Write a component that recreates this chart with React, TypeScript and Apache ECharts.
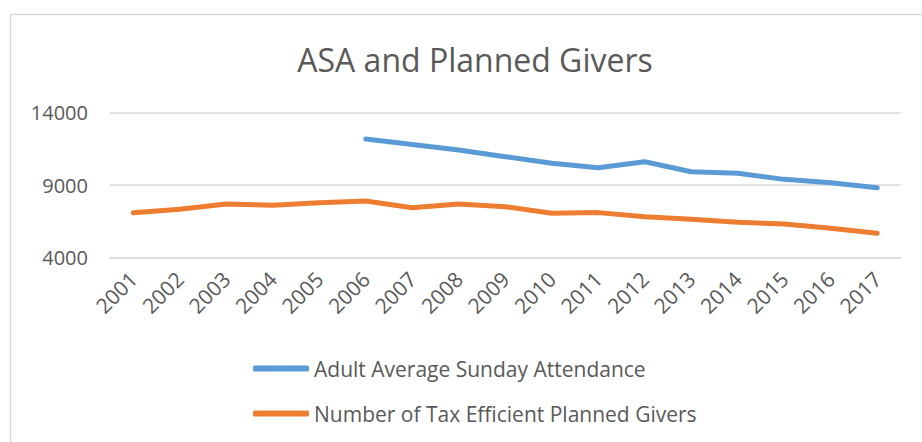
import React, { useEffect, useRef } from "react";
import * as echarts from "echarts";

const years = ["2001","2002","2003","2004","2005","2006","2007","2008","2009","2010","2011","2012","2013","2014","2015","2016","2017"];
const attendance = [null, null, null, null, null, 12180, 11800, 11420, 10960, 10500, 10200, 10610, 9920, 9810, 9390, 9160, 8810];
const plannedGivers = [7080, 7320, 7690, 7600, 7780, 7890, 7430, 7690, 7500, 7040, 7090, 6810, 6630, 6420, 6300, 6010, 5660];
const seriesNames = ["Adult Average Sunday Attendance", "Number of Tax Efficient Planned Givers"];
const yMin = 4000;
const yMax = 14000;
const yStep = 5000;

const FONT = "'Open Sans', sans-serif";
const TXT = "#595959";

export default function App() {
  const ref = useRef<HTMLDivElement>(null);
  useEffect(() => {
    if (!ref.current) return;
    const chart = echarts.init(ref.current, null, { renderer: "svg" });
    chart.setOption({
      animation: false,
      backgroundColor: "#ffffff",
      title: {
        text: "ASA and Planned Givers",
        left: 470,
        textAlign: "center",
        top: 38,
        textStyle: { fontFamily: FONT, fontSize: 32, fontWeight: "normal", color: TXT },
      },
      graphic: [
        {
          type: "rect",
          shape: { x: 10.5, y: 14.5, width: 1000, height: 1000 },
          style: { fill: "none", stroke: "#d9d9d9", lineWidth: 1.5 },
          silent: true,
        },
      ],
      legend: {
        orient: "vertical",
        left: 248,
        top: 351,
        itemWidth: 56,
        itemHeight: 6,
        itemGap: 20,
        icon: "roundRect",
        textStyle: { fontFamily: FONT, fontSize: 21, color: TXT, lineHeight: 25 },
        data: seriesNames,
      },
      grid: { left: 110, right: 21.5, top: 112.7, bottom: 184.7, containLabel: false },
      xAxis: {
        type: "category",
        data: years,
        boundaryGap: true,
        axisLine: { show: true, lineStyle: { color: "#d9d9d9", width: 1.5 } },
        axisTick: { show: false },
        axisLabel: {
          rotate: 45,
          interval: 0,
          margin: 18,
          fontFamily: FONT,
          fontSize: 21,
          color: TXT,
        },
      },
      yAxis: {
        type: "value",
        min: yMin,
        max: yMax,
        interval: yStep,
        axisLine: { show: false },
        axisTick: { show: false },
        splitLine: { lineStyle: { color: "#d9d9d9", width: 1.5 } },
        axisLabel: {
          margin: 22,
          fontFamily: FONT,
          fontSize: 20,
          color: TXT,
          formatter: (v: number) => String(v),
        },
      },
      series: [
        {
          name: seriesNames[0],
          type: "line",
          data: attendance,
          symbol: "none",
          connectNulls: false,
          itemStyle: { color: "#5b9bd5" },
          lineStyle: { color: "#5b9bd5", width: 5, cap: "round", join: "round" },
        },
        {
          name: seriesNames[1],
          type: "line",
          data: plannedGivers,
          symbol: "none",
          itemStyle: { color: "#ed7d31" },
          lineStyle: { color: "#ed7d31", width: 5, cap: "round", join: "round" },
        },
      ],
    });
    return () => chart.dispose();
  }, []);
  return <div ref={ref} style={{ position: "fixed", left: 0, top: 0, width: 922, height: 442 }} />;
}
